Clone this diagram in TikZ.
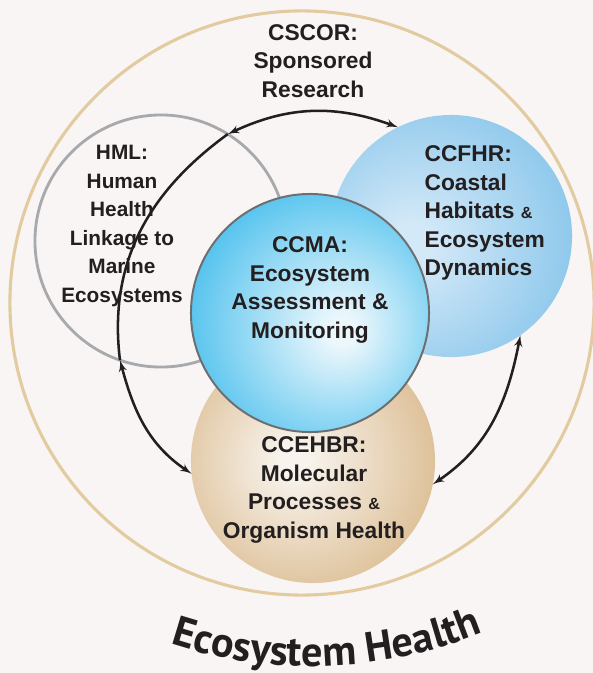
\documentclass[tikz,border=0pt]{standalone}
\usepackage{fontspec}
\setmainfont{Liberation Sans}
\newfontfamily\ehfamily{PT Sans}
\usetikzlibrary{shapes,arrows,decorations.text}

\definecolor{bgpaper}{RGB}{248,245,244}
\definecolor{ringtan}{RGB}{227,203,160}
\definecolor{hmlgray}{RGB}{167,169,172}
\definecolor{ccmaedge}{RGB}{109,110,113}
\definecolor{ccmablue}{RGB}{18,172,232}
\definecolor{ccmalight}{RGB}{236,247,252}
\definecolor{ccfhrblue}{RGB}{92,177,227}
\definecolor{ccfhrlight}{RGB}{212,233,248}
\definecolor{ccehbrtan}{RGB}{202,156,92}
\definecolor{ccehbrlight}{RGB}{248,243,236}
\definecolor{inktext}{RGB}{35,31,32}

\pgfdeclareradialshading{ccmashade}{\pgfpoint{7bp}{-4bp}}{color(0bp)=(ccmalight); color(3bp)=(ccmalight); color(42bp)=(ccmablue); color(70bp)=(ccmablue)}
\pgfdeclareradialshading{ccfhrshade}{\pgfpoint{-9bp}{-2bp}}{color(0bp)=(ccfhrlight); color(4bp)=(ccfhrlight); color(50bp)=(ccfhrblue); color(70bp)=(ccfhrblue)}
\pgfdeclareradialshading{ccehbrshade}{\pgfpoint{-4bp}{0bp}}{color(0bp)=(ccehbrlight); color(3bp)=(ccehbrlight); color(46bp)=(ccehbrtan); color(70bp)=(ccehbrtan)}

\newcommand{\labfont}{\fontsize{16.2}{20.2}\selectfont\bfseries}
\newcommand{\hmlfont}{\fontsize{14.8}{20.2}\selectfont\bfseries}
\newcommand{\smallamp}{{\fontsize{11.5}{12}\selectfont\&}}
\newcommand{\ehfont}{\ehfamily\bfseries\fontsize{30}{32}\selectfont}

\begin{document}
\begin{tikzpicture}[x=0.025cm, y=0.025cm, thick]
        \tikzstyle{unit} = [circle, inner sep=0pt, outer sep=0pt]
        \tikzstyle{unittext} = [font=\labfont, text=inktext, align=center, inner sep=0pt]
        \tikzstyle{link} = [draw, color=inktext, line width=1.8pt, latex'-latex']

        \fill [bgpaper] (0,0) rectangle (593,-673);
        \useasboundingbox (0,0) rectangle (593,-673);

        \node [unit, draw=ringtan, line width=2.2pt, minimum size=14.6cm] (eco) at (302,-303) {};
        \node [unit, draw=hmlgray, line width=2pt, minimum size=6.3cm] (hml) at (161,-241) {};
        \node [unit, shade, shading=ccfhrshade, minimum size=6.05cm] (ccfhr) at (451,-236) {};
        \node [unit, shade, shading=ccehbrshade, minimum size=6.1cm] (ccehbr) at (313,-461) {};
        \node [unit, shade, shading=ccmashade, draw=ccmaedge, line width=1.4pt, minimum size=5.95cm] (ccma) at (310,-313) {};

        \node [unittext] (cscor) at (313,-61) {CSCOR:\\Sponsored\\Research};
        \node [unittext, font=\hmlfont] (hmltext) at (122,-226) {HML:\\Human\\Health\\Linkage to\\Marine\\Ecosystems};
        \node [unittext, align=left, anchor=west] (ccfhrtext) at (424,-213) {CCFHR:\\Coastal\\Habitats \smallamp\\Ecosystem\\Dynamics};
        \node [unittext] (ccmatext) at (310,-290) {CCMA:\\Ecosystem\\Assessment \&\\Monitoring};
        \node [unittext] (ccehbrtext) at (314,-490) {CCEHBR:\\Molecular\\Processes \smallamp\\Organism Health};

        % arrows between the centres
        \draw [link] (hml.58) to[out=25, in=160] (ccfhr.116);
        \draw [inktext, line width=1.8pt] (hml.58) to[out=216, in=97] (hml.251);
        \draw [link] (hml.251) to[out=285, in=146] (ccehbr.186);
        \draw [link] (ccehbr.349) to[out=34, in=259] (ccfhr.305);

        \path [decorate, decoration={text along path, text={|\ehfont|Ecosystem Health}, text align=center, text color=inktext}]
            (312,-211) ++(248:11.375cm) arc [start angle=248, end angle=296, radius=11.375cm];
    \end{tikzpicture}
\end{document}
